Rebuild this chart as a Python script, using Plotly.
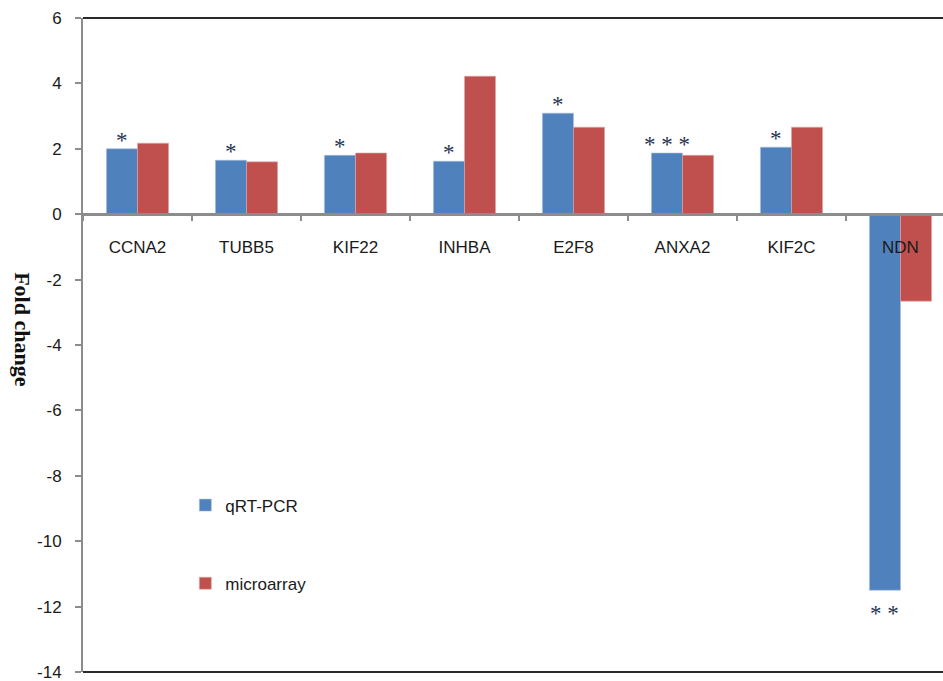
import plotly.graph_objects as go

genes = ["CCNA2", "TUBB5", "KIF22", "INHBA", "E2F8", "ANXA2", "KIF2C", "NDN"]
qrt_pcr = [2.0, 1.65, 1.8, 1.62, 3.09, 1.87, 2.05, -11.5]
microarray = [2.17, 1.6, 1.87, 4.22, 2.66, 1.8, 2.66, -2.66]
significance = ["*", "*", "*", "*", "*", "* * *", "*", "* *"]
y_ticks = [6, 4, 2, 0, -2, -4, -6, -8, -10, -12, -14]
y_tick_labels = ["6", "4", "2", "0", "-2", "-4", "-6", "-8", "-10", "-12", "-14"]

BLUE = "#4F81BD"
RED = "#C0504D"
FONT = "Liberation Sans"

fig = go.Figure()
fig.add_trace(go.Bar(x=genes, y=qrt_pcr, name="qRT-PCR", marker_color=BLUE,
                     marker_line=dict(color="#a8bfdc", width=0.6), legendgroup="a"))
fig.add_trace(go.Bar(x=genes, y=microarray, name="microarray", marker_color=RED,
                     marker_line=dict(color="#dca8a6", width=0.6), legendgroup="b"))

annotations = []
for g, v, s in zip(genes, qrt_pcr, significance):
    if v >= 0:
        annotations.append(dict(x=g, y=v, text=s, showarrow=False, xshift=-15.5,
                                yanchor="bottom", yshift=-6,
                                font=dict(family="Liberation Serif", size=23, color="#253350")))
    else:
        annotations.append(dict(x=g, y=v, text=s, showarrow=False, xshift=-15.5,
                                yanchor="top", yshift=-9,
                                font=dict(family="Liberation Serif", size=23, color="#253350")))

annotations.append(dict(xref="paper", yref="paper", x=-0.088, y=0.523, text="<b>Fold change</b>",
                        textangle=90, showarrow=False,
                        font=dict(family="Liberation Serif", size=22, color="#111")))

fig.update_layout(
    width=943, height=681,
    margin=dict(l=83, r=0, t=18, b=9, autoexpand=False),
    paper_bgcolor="white", plot_bgcolor="white",
    barmode="group", bargap=0.43, bargroupgap=0,
    font=dict(family=FONT, size=16, color="#1a1a1a"),
    showlegend=True,
    legend=dict(x=0.119, y=0.282, xanchor="left", yanchor="top",
                bgcolor="rgba(0,0,0,0)", tracegroupgap=53,
                font=dict(family=FONT, size=17, color="#1a1a1a")),
    annotations=annotations,
    shapes=[
        dict(type="line", xref="paper", yref="paper", x0=0, x1=1, y0=1, y1=1,
             line=dict(color="#2a2a2a", width=2)),
        dict(type="line", xref="paper", yref="paper", x0=0, x1=1, y0=0, y1=0,
             line=dict(color="#2a2a2a", width=2)),
    ],
)

fig.update_xaxes(
    type="category", range=[-0.5, 7.39],
    anchor="free", position=0.7,
    showline=True, linecolor="#8c8c8c", linewidth=2.5,
    ticks="outside", tickson="boundaries", ticklen=5, tickcolor="#8c8c8c", tickwidth=1.5,
    showgrid=False, zeroline=False,
    tickfont=dict(family=FONT, size=17, color="#1a1a1a"),
    ticklabelstandoff=17,
)
fig.update_yaxes(
    range=[-14.001, 6], tickvals=y_ticks, ticktext=y_tick_labels,
    showline=True, linecolor="#8c8c8c", linewidth=2,
    ticks="outside", ticklen=6, tickcolor="#8c8c8c", tickwidth=1.5,
    showgrid=False, zeroline=False, ticklabeloverflow="allow",
    tickfont=dict(family=FONT, size=17, color="#1a1a1a"),
    ticklabelstandoff=10,
)

fig.write_html("out.html", config={"displayModeBar": False},
               post_script="document.body.style.margin='0';document.body.style.overflow='hidden';")
